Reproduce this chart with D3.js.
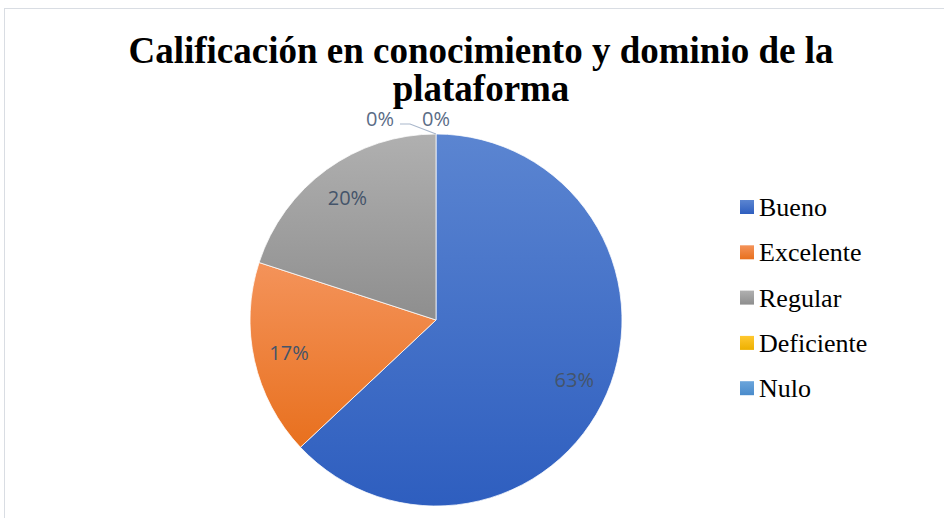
<!DOCTYPE html>
<html>
<head>
<meta charset="utf-8">
<script src="https://cdn.jsdelivr.net/npm/d3@7"></script>
<style>
  body { margin: 0; background: #fff; }
</style>
</head>
<body>
<div id="viz"></div>
<script>
var categories = ['Bueno', 'Excelente', 'Regular', 'Deficiente', 'Nulo'];
var values = [63, 17, 20, 0, 0];
var labels = ['63%', '17%', '20%', '0%', '0%'];
var titleLines = ['Calificación en conocimiento y dominio de la', 'plataforma'];
var colors = [
  ['#5B85D1', '#2E5EBF'],
  ['#F4935A', '#E8701E'],
  ['#B0B0B0', '#8E8E8E'],
  ['#FFC830', '#EDB000'],
  ['#6BA5DB', '#4A8BCB']
];

var width = 944, height = 518;
var cx = 436, cy = 320, r = 186;

var svg = d3.select('#viz').append('svg')
            .attr('width', width)
            .attr('height', height);

// chart area border
svg.append('rect')
   .attr('x', 4.5).attr('y', 8.5)
   .attr('width', width + 10).attr('height', height + 10)
   .attr('fill', 'none')
   .attr('stroke', '#D9DDE3')
   .attr('stroke-width', 1);

var defs = svg.append('defs');
colors.forEach(function(c, i) {
  var grad = defs.append('linearGradient')
                 .attr('id', 'grad' + i)
                 .attr('x1', 0).attr('y1', 0).attr('x2', 0).attr('y2', 1);
  grad.append('stop').attr('offset', '0%').attr('stop-color', c[0]);
  grad.append('stop').attr('offset', '100%').attr('stop-color', c[1]);
});

// title
svg.append('text')
   .attr('x', 480)
   .attr('y', 63)
   .attr('text-anchor', 'middle')
   .style('font-family', '"Liberation Serif", "Times New Roman", serif')
   .style('font-weight', 'bold')
   .style('font-size', '37px')
   .style('fill', '#000')
   .selectAll('tspan')
   .data(titleLines)
   .enter().append('tspan')
     .attr('x', 481)
     .attr('dy', function(d, i) { return i === 0 ? 0 : 38; })
     .text(function(d) { return d; });

var pie = d3.pie().sort(null).value(function(d) { return d; });
var arcs = pie(values);
var arc = d3.arc().innerRadius(0).outerRadius(r);
var labelArc = d3.arc().innerRadius(r * 0.81).outerRadius(r * 0.81);

var g = svg.append('g').attr('transform', 'translate(' + cx + ',' + cy + ')');

g.selectAll('path.slice')
 .data(arcs)
 .enter().append('path')
   .attr('class', 'slice')
   .attr('d', arc)
   .attr('fill', function(d, i) { return 'url(#grad' + i + ')'; })
   .attr('stroke', '#fff')
   .attr('stroke-width', function(d) { return d.value > 0 ? 0.75 : 0; });

var labelFont = '"Open Sans", "Noto Sans", sans-serif';

// labels for non-zero slices
g.selectAll('text.inside')
 .data(arcs.filter(function(d) { return d.value > 0; }))
 .enter().append('text')
   .attr('class', 'inside')
   .attr('transform', function(d) { return 'translate(' + labelArc.centroid(d) + ')'; })
   .attr('text-anchor', 'middle')
   .attr('dy', '0.35em')
   .style('font-family', labelFont)
   .style('font-size', '20px')
   .style('fill', '#44546A')
   .text(function(d) { return labels[d.index]; });

// zero slices sit at the top: labels outside with a leader line
var zeros = arcs.filter(function(d) { return d.value === 0; });
var edge = d3.arc().innerRadius(r).outerRadius(r).centroid(zeros[0]);
var offsets = [[-56, -8], [-14, -8]];

g.append('path')
 .attr('d', 'M' + (edge[0] - 36) + ',' + (edge[1] - 10) +
            'H' + (edge[0] - 26) +
            'L' + edge[0] + ',' + edge[1])
 .attr('fill', 'none')
 .attr('stroke', '#A9B7CB')
 .attr('stroke-width', 1.2);

g.selectAll('text.outside')
 .data(zeros)
 .enter().append('text')
   .attr('class', 'outside')
   .attr('x', function(d, i) { return edge[0] + offsets[i][0]; })
   .attr('y', function(d, i) { return edge[1] + offsets[i][1]; })
   .attr('text-anchor', function(d, i) { return i === 0 ? 'middle' : 'start'; })
   .style('font-family', labelFont)
   .style('font-size', '20px')
   .style('fill', '#5A6C86')
   .text(function(d) { return labels[d.index]; });

// legend
var legend = svg.append('g').attr('transform', 'translate(740,207)');
var rows = legend.selectAll('g')
  .data(categories)
  .enter().append('g')
    .attr('transform', function(d, i) { return 'translate(0,' + (i * 45.3) + ')'; });
rows.append('rect')
    .attr('x', 0).attr('y', -7)
    .attr('width', 14).attr('height', 14)
    .attr('fill', function(d, i) { return 'url(#grad' + i + ')'; });
rows.append('text')
    .attr('x', 19)
    .attr('y', 0)
    .attr('dy', '0.35em')
    .style('font-family', '"Liberation Serif", "Times New Roman", serif')
    .style('font-size', '26px')
    .style('fill', '#000')
    .text(function(d) { return d; });
</script>
</body>
</html>
